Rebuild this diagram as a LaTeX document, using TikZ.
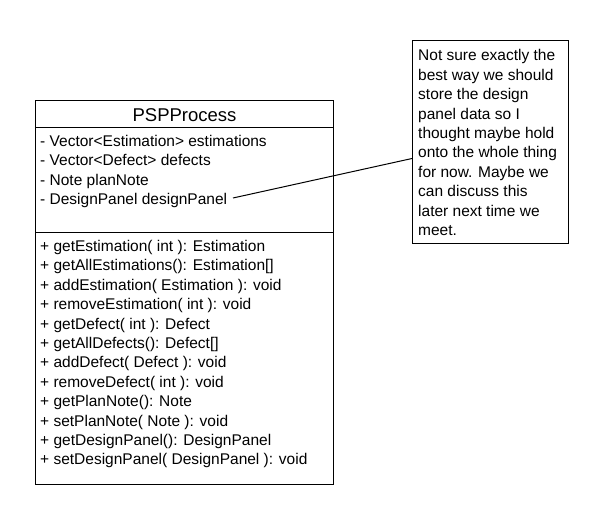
\documentclass[tikz,border=0pt]{standalone}
\usepackage{fontspec}
\setmainfont{Liberation Sans}
\begin{document}
\begin{tikzpicture}[x=1pt,y=-1pt,
  boxline/.style={draw=black, line width=1pt},
  txt/.style={anchor=base west, inner sep=0pt, font=\fontsize{15.5}{19.4}\selectfont},
  titletxt/.style={anchor=center, inner sep=0pt, font=\fontsize{18.5}{22}\selectfont}]
\useasboundingbox (0,0) rectangle (598,529);
% class box
\node[boxline, anchor=north west, minimum width=298pt, minimum height=384pt, inner sep=0pt] (cls) at (35,100) {};
\draw[boxline] (35,128) -- (333,128);
\draw[boxline] (35,233) -- (333,233);
\node[titletxt] (title) at (184.5,115) {PSPProcess};
% attributes
\node[txt] (a1) at (40,146.5) {- Vector<Estimation> estimations};
\node[txt] (a2) at (40,165.9) {- Vector<Defect> defects};
\node[txt] (a3) at (40,185.3) {- Note planNote};
\node[txt] (a4) at (40,204.7) {- DesignPanel designPanel};
% methods
\foreach \t [count=\i from 0] in {
  {+ getEstimation( int ): Estimation},
  {+ getAllEstimations(): Estimation[]},
  {+ addEstimation( Estimation ): void},
  {+ removeEstimation( int ): void},
  {+ getDefect( int ): Defect},
  {+ getAllDefects(): Defect[]},
  {+ addDefect( Defect ): void},
  {+ removeDefect( int ): void},
  {+ getPlanNote(): Note},
  {+ setPlanNote( Note ): void},
  {+ getDesignPanel(): DesignPanel},
  {+ setDesignPanel( DesignPanel ): void}}
  \node[txt] (m\i) at (40,251.5+19.4*\i) {\t};
% note
\node[boxline, anchor=north west, minimum width=156pt, minimum height=203pt, inner sep=0pt] (note) at (412,40) {};
\foreach \t [count=\i from 0] in {
  {Not sure exactly the},
  {best way we should},
  {store the design},
  {panel data so I},
  {thought maybe hold},
  {onto the whole thing},
  {for now. Maybe we},
  {can discuss this},
  {later next time we},
  {meet.}}
  \node[txt] (n\i) at (418,61+19.4*\i) {\t};
% connector
\coordinate (attrend) at (233,198);
\draw[line width=1pt] (attrend) -- ([yshift=-16.5pt]note.west);
\end{tikzpicture}
\end{document}
